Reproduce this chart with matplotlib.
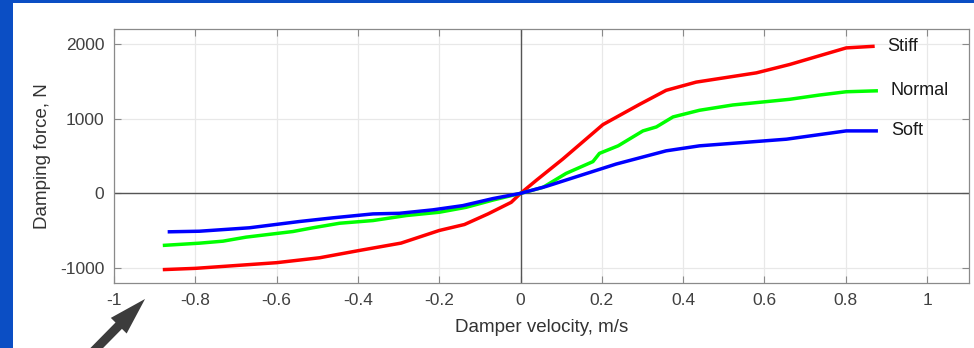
import matplotlib
matplotlib.use("Agg")
import matplotlib.pyplot as plt
from matplotlib.patches import Rectangle, FancyArrowPatch

plt.rcParams['font.family'] = ['Liberation Sans', 'DejaVu Sans']
plt.rcParams['axes.unicode_minus'] = False

# damper curves (velocity m/s, force N)
stiff_v = [-0.88, -0.80, -0.60, -0.494, -0.396, -0.294, -0.20, -0.138, -0.08, -0.023, 0.0,
           0.04, 0.104, 0.2025, 0.293, 0.358, 0.432, 0.58, 0.662, 0.801, 0.871]
stiff_f = [-1021, -1004, -928, -862, -764, -666, -497, -417, -275, -120, 0,
           180, 460, 920, 1192, 1379, 1489, 1613, 1725, 1947, 1969]

normal_v = [-0.88, -0.79, -0.732, -0.675, -0.56, -0.511, -0.445, -0.363, -0.281, -0.20, -0.134, -0.068, 0.0,
            0.055, 0.112, 0.178, 0.194, 0.24, 0.301, 0.334, 0.375, 0.44, 0.522, 0.662, 0.735, 0.801, 0.879]
normal_f = [-697, -667, -640, -586, -511, -461, -400, -364, -297, -253, -187, -90, 0,
            80, 267, 425, 535, 636, 836, 889, 1023, 1112, 1183, 1259, 1316, 1360, 1373]

soft_v = [-0.868, -0.79, -0.667, -0.544, -0.462, -0.363, -0.298, -0.216, -0.142, -0.068, 0.0,
          0.063, 0.145, 0.235, 0.358, 0.44, 0.654, 0.801, 0.879]
soft_f = [-515, -507, -461, -377, -328, -275, -267, -221, -164, -70, 0,
          93, 236, 392, 569, 636, 725, 836, 836]

series = [("Stiff", stiff_v, stiff_f, "#ff0000"),
          ("Normal", normal_v, normal_f, "#00ff00"),
          ("Soft", soft_v, soft_f, "#0000ff")]

x_ticks = [-1, -0.8, -0.6, -0.4, -0.2, 0, 0.2, 0.4, 0.6, 0.8, 1]
x_tick_labels = ["-1", "-0.8", "-0.6", "-0.4", "-0.2", "0", "0.2", "0.4", "0.6", "0.8", "1"]
y_ticks = [-1000, 0, 1000, 2000]
y_tick_labels = ["-1000", "0", "1000", "2000"]

fig = plt.figure(figsize=(9.74, 3.48), dpi=100)
ax = fig.add_axes([114 / 974, 1 - 283 / 348, 855 / 974, 254 / 348])

# zero lines
ax.axhline(0, color="#555555", lw=1.0, zorder=1)
ax.axvline(0, color="#555555", lw=1.0, zorder=1)

for name, v, f, c in series:
    ax.plot(v, f, color=c, lw=2.5, zorder=3, solid_capstyle="butt")
    ax.text(v[-1] + 0.032, f[-1], name, fontsize=13, color="#1a1a1a",
            va="center", ha="left")

ax.set_xlim(-1, 1.103)
ax.set_ylim(-1200, 2200)
ax.set_xticks(x_ticks)
ax.set_xticklabels(x_tick_labels)
ax.set_yticks(y_ticks)
ax.set_yticklabels(y_tick_labels)
ax.grid(True, color="#e8e8e8", lw=0.9, zorder=0)
ax.set_axisbelow(True)

ax.tick_params(direction="in", length=5, width=0.8, color="#8a8a8a",
               labelsize=12.5, labelcolor="#404040", top=True, right=True, pad=7)
for s in ax.spines.values():
    s.set_color("#8a8a8a")
    s.set_linewidth(0.9)

ax.set_xlabel("Damper velocity, m/s", fontsize=13.5, color="#333333", va="center")
ax.set_ylabel("Damping force, N", fontsize=13.5, color="#333333", va="center")
ax.xaxis.set_label_coords(0.5, (283 - 328) / 254)
ax.yaxis.set_label_coords((43 - 114) / 855, 0.5)

# blue frame on top and left
fig.add_artist(Rectangle((0, 0), 13 / 974, 1, transform=fig.transFigure,
                         facecolor="#0b4ec4", edgecolor="none"))
fig.add_artist(Rectangle((0, 1 - 3 / 348), 1, 3 / 348, transform=fig.transFigure,
                         facecolor="#0b4ec4", edgecolor="none"))

# pointer arrow
arrow = FancyArrowPatch((80 / 974, 1 - 365 / 348), (147 / 974, 1 - 297 / 348),
                        transform=fig.transFigure,
                        arrowstyle="simple,head_length=2.7,head_width=1.6,tail_width=0.65",
                        mutation_scale=10, color="#3c3c3c", lw=0)
fig.add_artist(arrow)

fig.savefig("out.png", dpi=100)
